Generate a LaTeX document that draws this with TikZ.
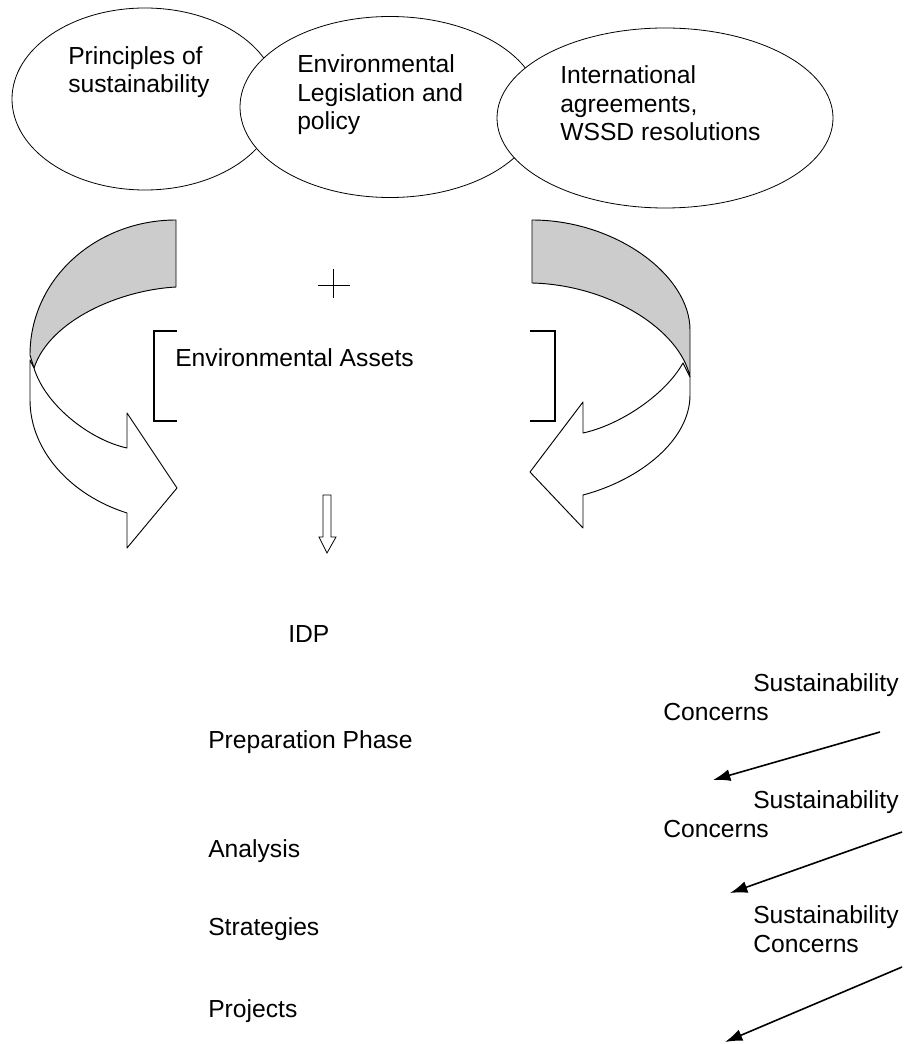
\documentclass[tikz,border=0pt]{standalone}
\usepackage{fontspec}
\setmainfont{Liberation Sans}
\usetikzlibrary{shapes.geometric,arrows.meta}
\definecolor{ribbongray}{RGB}{204,204,204}
\newcommand{\diagfont}{\fontsize{18.5}{21.4}\selectfont}

\begin{document}
\begin{tikzpicture}[x=0.75pt,y=-0.75pt,
  bubble/.style={draw, ellipse, fill=white, line width=0.6pt, inner sep=0pt},
  lbl/.style={font=\diagfont, align=left, anchor=base west, inner sep=0pt},
  ribbon/.style={draw, fill=ribbongray, line width=0.7pt, line join=round},
  front/.style={draw, fill=white, line width=0.7pt, line join=round},
  concern/.style={-{Latex[length=13pt,width=9pt]}, line width=1.2pt}
]
\useasboundingbox (0,0) rectangle (903,1044);

% the three sources
\node[bubble, minimum width=199.5pt, minimum height=136.5pt] (src1) at (145,99) {};
\node[bubble, minimum width=225pt, minimum height=135.75pt] (src2) at (390,107) {};
\node[bubble, minimum width=252pt, minimum height=135pt] (src3) at (665,118) {};
\node[lbl] (t1) at (68,93) {Principles of\\sustainability};
\node[lbl] (t2) at (297,130) {Environmental\\Legislation and\\policy};
\node[lbl] (t3) at (560,141) {International\\agreements,\\WSSD resolutions};

% left curved arrow
\path[ribbon] (176,220) .. controls (97,220) and (30,278) .. (30,355) -- (34,368)
  .. controls (50,320) and (120,290) .. (176,287) -- cycle;
\path[front] (34,368) .. controls (45,405) and (90,440) .. (127,448)
  -- (127,413) -- (177,488) -- (127,548) -- (127,513)
  .. controls (70,495) and (30,450) .. (30,400) -- (30,360) -- cycle;

% right curved arrow
\path[ribbon] (532,220) .. controls (615,220) and (690,275) .. (690,330) -- (690,377)
  .. controls (680,330) and (610,285) .. (532,283) -- cycle;
\path[front] (683,363) .. controls (665,395) and (620,425) .. (583,433)
  -- (583,402) -- (530,472) -- (583,528) -- (583,495)
  .. controls (640,480) and (690,440) .. (690,395) -- (690,377) -- cycle;

% plus and assets
\draw[line width=0.7pt] (318,285) -- (350,285) (333,269) -- (333,298);
\draw[line width=0.9pt] (177,331) -- (154,331) -- (154,421) -- (177,421);
\draw[line width=0.9pt] (530,331) -- (555,331) -- (555,421) -- (530,421);
\node[lbl] (assets) at (175,367) {Environmental Assets};

% down arrow
\draw[line width=0.6pt, fill=white] (323,495) -- (331,495) -- (331,537) -- (336,537)
  -- (327,553) -- (319,537) -- (323,537) -- cycle;

% IDP phases
\node[lbl] (idp) at (288,642) {IDP};
\node[lbl] (prep) at (208,748) {Preparation Phase};
\node[lbl] (analysis) at (208,857) {Analysis};
\node[lbl] (strat) at (208,935) {Strategies};
\node[lbl] (proj) at (208,1017) {Projects};

% sustainability concerns
\node[lbl] (sc1) at (663,720) {\hspace*{67.5pt}Sustainability\\Concerns};
\node[lbl] (sc2) at (663,837) {\hspace*{67.5pt}Sustainability\\Concerns};
\node[lbl] (sc3) at (753,952) {Sustainability\\Concerns};

\coordinate (c1a) at (880,732);
\coordinate (c1b) at (713,780);
\coordinate (c2a) at (902,832);
\coordinate (c2b) at (730,893);
\coordinate (c3a) at (902,967);
\coordinate (c3b) at (725,1042);
\draw[concern] (c1a) -- (c1b);
\draw[concern] (c2a) -- (c2b);
\draw[concern] (c3a) -- (c3b);
\end{tikzpicture}
\end{document}
